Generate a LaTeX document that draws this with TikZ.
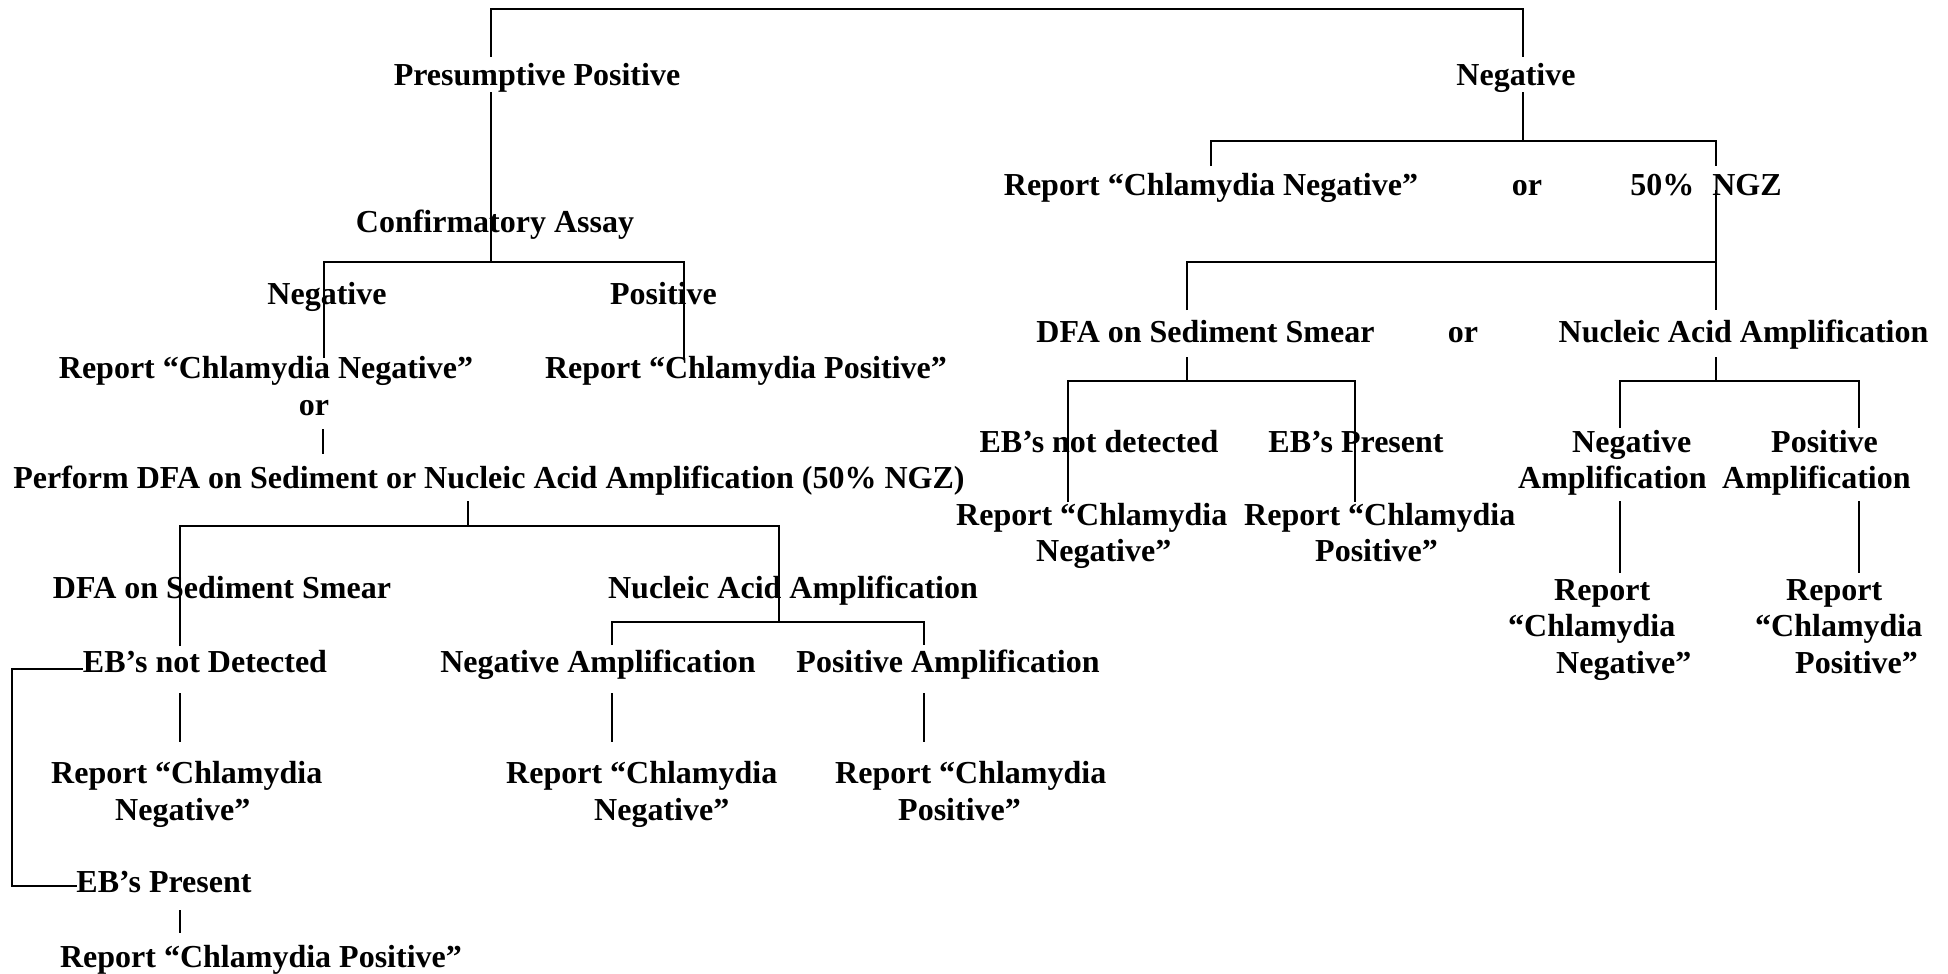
\documentclass[tikz,border=0pt]{standalone}
\usepackage{fontspec}
\setmainfont{Liberation Serif}
\newcommand\mlns[2]{\vtop{\baselineskip=#1\lineskiplimit=-100pt\lineskip=0pt #2}}
\tikzset{
  lbl/.style={inner sep=0pt, anchor=base},
  mlbl/.style={inner sep=0pt, anchor=base west},
  ln/.style={line width=1.6pt, line join=miter}
}
\begin{document}
\begin{tikzpicture}[x=1pt,y=-1pt,font=\fontsize{32}{36}\selectfont\bfseries]
\useasboundingbox[fill=white] (0,0) rectangle (1948,974);
% ---------- left tree texts
\node[lbl] (pp) at (537,85) {Presumptive Positive};
\node[lbl] (conf) at (495,232) {Confirmatory Assay};
\node[lbl] (cneg) at (327,304) {Negative};
\node[lbl] (cpos) at (663.5,304) {Positive};
\node[lbl] (rneg1) at (266,378) {Report “Chlamydia Negative”};
\node[lbl] (rpos1) at (746,378) {Report “Chlamydia Positive”};
\node[lbl] (or1) at (314,415) {or};
\node[lbl] (perf) at (489,488) {Perform DFA on Sediment or Nucleic Acid Amplification (50\% NGZ)};
\node[lbl] (dfa1) at (222,598) {DFA on Sediment Smear};
\node[lbl] (naa1) at (793,598) {Nucleic Acid Amplification};
\node[lbl] (ebn1) at (205,672) {EB’s not Detected};
\node[lbl] (namp1) at (598,672) {Negative Amplification};
\node[lbl] (pamp1) at (948,672) {Positive Amplification};
\node[mlbl] (rneg2) at (51,783) {\mlns{37pt}{\hbox{Report “Chlamydia}\hbox{\kern64pt Negative”}}};
\node[mlbl] (rneg3) at (506,783) {\mlns{37pt}{\hbox{Report “Chlamydia}\hbox{\kern88pt Negative”}}};
\node[mlbl] (rpos3) at (835,783) {\mlns{37pt}{\hbox{Report “Chlamydia}\hbox{\kern63pt Positive”}}};
\node[lbl] (ebp1) at (164,892) {EB’s Present};
\node[lbl] (rpos2) at (261,967) {Report “Chlamydia Positive”};
% ---------- right tree texts
\node[lbl] (neg) at (1516,85) {Negative};
\node[lbl] (rneg4) at (1211,195) {Report “Chlamydia Negative”};
\node[lbl] (or2) at (1527,195) {or};
\node[lbl] (ngz) at (1706,195) {50\%\kern18pt NGZ};
\node[lbl] (dfa2) at (1205.5,342) {DFA on Sediment Smear};
\node[lbl] (or3) at (1463,342) {or};
\node[lbl] (naa2) at (1743.5,342) {Nucleic Acid Amplification};
\node[lbl] (ebn2) at (1099,452) {EB’s not detected};
\node[lbl] (ebp2) at (1356,452) {EB’s Present};
\node[mlbl] (namp2) at (1518,452) {\mlns{36pt}{\hbox{\kern54pt Negative}\hbox{Amplification}}};
\node[mlbl] (pamp2) at (1722,452) {\mlns{36pt}{\hbox{\kern49pt Positive}\hbox{Amplification}}};
\node[mlbl] (rneg5) at (956,525) {\mlns{36.5pt}{\hbox{Report “Chlamydia}\hbox{\kern80pt Negative”}}};
\node[mlbl] (rpos5) at (1244,525) {\mlns{36.5pt}{\hbox{Report “Chlamydia}\hbox{\kern71pt Positive”}}};
\node[mlbl] (rneg6) at (1508,600) {\mlns{36.5pt}{\hbox{\kern46pt Report}\hbox{“Chlamydia}\hbox{\kern48pt Negative”}}};
\node[mlbl] (rpos6) at (1755,600) {\mlns{36.5pt}{\hbox{\kern31pt Report}\hbox{“Chlamydia}\hbox{\kern40pt Positive”}}};
% ---------- connector points
\coordinate (c1) at (491,57);  \coordinate (c2) at (1523,57); \coordinate (top) at (1000,9);
\coordinate (p1) at (491,92);  \coordinate (j1) at (491,262);
\coordinate (l1) at (324,358); \coordinate (r1) at (684,360);
\coordinate (o1) at (323,429); \coordinate (o2) at (323,454);
\coordinate (q1) at (468,501); \coordinate (q2) at (468,526);
\coordinate (d1) at (180,646); \coordinate (d2) at (779,622);
\coordinate (e1) at (612,645); \coordinate (e2) at (924,645);
\coordinate (f1) at (180,693); \coordinate (f2) at (180,742);
\coordinate (g1) at (612,693); \coordinate (g2) at (612,742);
\coordinate (h1) at (924,693); \coordinate (h2) at (924,742);
\coordinate (b1) at (83,669);  \coordinate (b2) at (12,886); \coordinate (b3) at (77,886);
\coordinate (i1) at (180,910); \coordinate (i2) at (180,933);
\coordinate (k1) at (1523,92); \coordinate (k2) at (1523,141);
\coordinate (k3) at (1211,166); \coordinate (k4) at (1716,166);
\coordinate (m1) at (1716,190); \coordinate (m2) at (1716,310);
\coordinate (m3) at (1716,262); \coordinate (m4) at (1187,310);
\coordinate (n1) at (1187,357); \coordinate (n2) at (1187,381);
\coordinate (n3) at (1068,502); \coordinate (n4) at (1355,502);
\coordinate (s1) at (1716,357); \coordinate (s2) at (1716,381);
\coordinate (s3) at (1620,428); \coordinate (s4) at (1859,428);
\coordinate (u1) at (1620,501); \coordinate (u2) at (1620,573);
\coordinate (v1) at (1859,501); \coordinate (v2) at (1859,573);
% ---------- connectors
\draw[ln] (c1) |- (top) -| (c2);
\draw[ln] (p1) -- (j1);
\draw[ln] (l1) |- (j1) -| (r1);
\draw[ln] (o1) -- (o2);
\draw[ln] (q1) -- (q2);
\draw[ln] (d1) |- (q2) -| (d2);
\draw[ln] (e1) |- (d2) -| (e2);
\draw[ln] (f1) -- (f2);
\draw[ln] (g1) -- (g2);
\draw[ln] (h1) -- (h2);
\draw[ln] (b1) -| (b2) -- (b3);
\draw[ln] (i1) -- (i2);
\draw[ln] (k1) -- (k2);
\draw[ln] (k3) |- (k2) -| (k4);
\draw[ln] (m1) -- (m2);
\draw[ln] (m4) |- (m3);
\draw[ln] (n1) -- (n2);
\draw[ln] (n3) |- (n2) -| (n4);
\draw[ln] (s1) -- (s2);
\draw[ln] (s3) |- (s2) -| (s4);
\draw[ln] (u1) -- (u2);
\draw[ln] (v1) -- (v2);
\end{tikzpicture}
\end{document}
